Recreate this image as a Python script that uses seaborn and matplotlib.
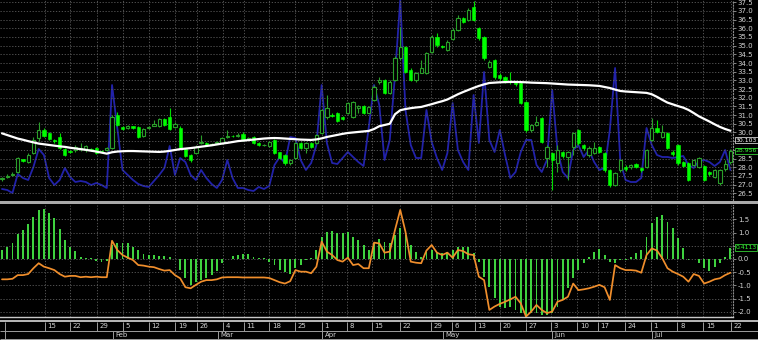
import numpy as np
import matplotlib
matplotlib.use("Agg")
import matplotlib.pyplot as plt
from matplotlib.patches import Rectangle
import seaborn as sns

# ---------------- data ----------------
opens = [27.30, 27.45, 27.55, 27.72, 28.45, 28.30, 28.82, 29.68, 30.14, 29.97,
         29.55, 29.74, 29.05, 28.95, 28.99, 29.05, 28.99, 29.05, 29.11, 28.95,
         29.00, 29.11, 31.01, 30.30, 30.25, 30.35, 30.32, 29.80, 30.25, 30.40,
         30.37, 30.78, 30.89, 30.30, 30.26, 29.05, 28.70, 28.82, 29.40, 29.40,
         29.28, 29.40, 29.40, 29.74, 29.80, 29.78, 29.91, 29.60, 29.74, 29.40,
         29.25, 29.22, 29.57, 28.88, 28.70, 28.24, 28.53, 29.40, 29.11, 29.40,
         29.40, 29.97, 30.89, 31.01, 31.12, 30.89, 31.12, 30.89, 31.40, 31.53,
         31.15, 31.87, 32.90, 33.02, 32.28, 33.02, 34.29, 34.93, 33.60, 33.02,
         33.45, 33.43, 34.64, 35.50, 34.98, 34.75, 35.39, 35.90, 36.59, 36.48,
         37.23, 36.02, 35.50, 33.77, 34.18, 33.31, 33.20, 32.95, 32.90, 32.85,
         31.76, 30.14, 30.43, 30.83, 28.53, 28.82, 28.24, 28.88, 28.60, 29.16,
         30.14, 29.28, 28.70, 28.80, 29.16, 28.82, 27.84, 26.97, 27.84, 28.00,
         28.00, 28.20, 27.95, 28.01, 29.57, 30.26, 29.74, 29.97, 28.88, 29.28,
         28.30, 28.24, 28.13, 28.01, 28.07, 27.70, 27.45, 27.09, 27.90, 28.30]
closes = [27.35, 27.50, 27.62, 28.53, 28.38, 28.70, 29.57, 30.14, 29.80, 29.63,
          29.50, 29.11, 28.70, 28.88, 29.16, 29.10, 29.22, 29.00, 28.82, 28.90,
          29.08, 30.89, 30.43, 30.22, 30.35, 30.28, 29.74, 30.20, 30.30, 30.50,
          30.78, 30.43, 30.20, 30.50, 29.11, 28.65, 28.42, 29.16, 29.45, 29.30,
          29.35, 29.45, 29.68, 29.80, 29.78, 29.86, 29.57, 29.68, 29.40, 29.25,
          29.30, 29.45, 28.82, 28.53, 28.24, 28.42, 29.40, 29.11, 29.40, 29.16,
          29.86, 31.30, 31.41, 30.95, 30.66, 30.75, 31.70, 31.76, 31.50, 31.12,
          31.45, 32.62, 33.00, 32.28, 32.91, 34.29, 34.93, 33.48, 33.02, 33.43,
          33.70, 34.58, 35.50, 35.04, 34.93, 35.20, 35.90, 36.59, 36.37, 37.06,
          36.48, 35.44, 34.29, 34.06, 33.20, 33.14, 32.91, 32.90, 32.80, 31.70,
          30.14, 30.43, 30.60, 29.45, 29.16, 28.42, 28.99, 28.65, 28.85, 29.95,
          29.40, 29.11, 29.11, 29.11, 28.88, 27.84, 26.97, 27.67, 28.42, 27.90,
          28.10, 28.00, 27.85, 28.99, 30.26, 30.03, 30.03, 29.11, 28.75, 28.24,
          28.07, 27.26, 28.42, 28.53, 27.26, 27.60, 27.84, 27.84, 28.20, 28.96]
highs = [27.45, 27.60, 27.70, 28.60, 28.50, 28.80, 29.75, 30.62, 30.25, 30.05,
         29.65, 29.95, 29.10, 29.00, 29.25, 29.40, 29.30, 29.10, 29.15, 29.00,
         29.15, 31.00, 31.20, 30.38, 30.45, 30.40, 30.35, 30.28, 30.38, 30.72,
         30.85, 30.85, 31.41, 30.60, 30.40, 29.10, 28.75, 29.25, 29.86, 29.45,
         29.40, 29.50, 29.72, 30.14, 29.85, 29.95, 30.00, 29.75, 29.80, 29.45,
         29.35, 29.50, 29.60, 28.90, 28.75, 28.50, 29.45, 29.45, 29.45, 29.45,
         29.90, 31.35, 32.16, 31.10, 31.20, 30.95, 31.75, 31.80, 31.60, 31.60,
         31.55, 32.75, 33.20, 33.10, 33.00, 34.40, 36.08, 35.00, 33.70, 33.50,
         34.18, 34.65, 35.60, 35.73, 35.05, 35.30, 36.00, 36.77, 36.65, 37.15,
         37.60, 36.10, 35.55, 34.15, 34.25, 33.40, 33.25, 33.48, 32.95, 32.90,
         31.80, 30.50, 30.95, 30.90, 29.25, 28.90, 29.28, 28.95, 28.95, 30.00,
         30.20, 29.35, 29.20, 29.45, 29.20, 28.90, 27.90, 27.75, 28.50, 28.10,
         28.20, 28.25, 28.00, 29.05, 30.83, 30.72, 30.43, 30.05, 29.00, 29.35,
         28.35, 28.30, 28.50, 28.60, 28.15, 27.80, 27.90, 27.90, 28.40, 29.05]
lows = [27.20, 27.40, 27.50, 27.65, 28.30, 28.25, 28.75, 29.50, 29.75, 29.55,
        29.40, 29.05, 28.65, 28.80, 28.90, 28.95, 28.90, 28.95, 28.75, 28.85,
        28.95, 29.05, 30.35, 30.15, 30.20, 30.20, 29.70, 29.75, 30.20, 30.35,
        30.30, 30.38, 30.15, 30.25, 29.05, 28.60, 28.30, 28.75, 29.35, 29.25,
        29.25, 29.35, 29.35, 29.70, 29.72, 29.72, 29.50, 29.55, 29.35, 29.20,
        29.20, 29.18, 28.75, 28.45, 28.15, 28.10, 28.50, 29.05, 28.82, 29.10,
        29.35, 29.90, 30.80, 30.90, 30.60, 30.70, 31.05, 30.85, 31.10, 31.05,
        31.10, 31.80, 32.80, 32.20, 32.20, 32.95, 34.20, 33.40, 32.95, 32.90,
        33.40, 33.35, 34.55, 34.95, 34.85, 34.70, 35.30, 35.85, 36.30, 36.40,
        36.40, 35.35, 34.20, 33.70, 33.10, 33.05, 32.85, 32.80, 32.70, 31.65,
        30.05, 30.05, 30.35, 29.40, 28.00, 26.69, 27.72, 28.55, 27.26, 28.70,
        29.30, 29.00, 28.60, 28.75, 28.80, 27.75, 26.85, 26.90, 27.75, 27.80,
        27.90, 27.95, 27.75, 27.95, 29.50, 29.95, 29.70, 29.05, 28.65, 28.15,
        28.00, 27.20, 28.05, 27.95, 27.20, 27.50, 27.35, 27.00, 27.80, 28.20]
moving_avg = [29.95, 29.85, 29.75, 29.65, 29.58, 29.50, 29.43, 29.36, 29.32, 29.28,
              29.24, 29.20, 29.17, 29.12, 29.08, 29.04, 29.00, 28.95, 28.90, 28.84,
              28.78, 28.86, 28.90, 28.92, 28.93, 28.93, 28.92, 28.91, 28.90, 28.89,
              28.88, 28.90, 28.94, 28.99, 29.04, 29.07, 29.10, 29.14, 29.18, 29.22,
              29.26, 29.31, 29.36, 29.40, 29.45, 29.50, 29.53, 29.56, 29.59, 29.62,
              29.65, 29.67, 29.68, 29.67, 29.65, 29.63, 29.61, 29.59, 29.58, 29.57,
              29.60, 29.66, 29.74, 29.80, 29.86, 29.92, 29.97, 30.00, 30.03, 30.06,
              30.09, 30.20, 30.36, 30.43, 30.50, 31.05, 31.28, 31.35, 31.40, 31.44,
              31.47, 31.55, 31.63, 31.72, 31.80, 31.90, 32.05, 32.20, 32.33, 32.45,
              32.57, 32.68, 32.77, 32.85, 32.87, 32.89, 32.90, 32.91, 32.91, 32.90,
              32.89, 32.87, 32.86, 32.85, 32.84, 32.82, 32.80, 32.78, 32.76, 32.75,
              32.74, 32.73, 32.72, 32.70, 32.68, 32.62, 32.56, 32.47, 32.39, 32.36,
              32.34, 32.32, 32.30, 32.28, 32.20, 32.05, 31.88, 31.72, 31.62, 31.52,
              31.43, 31.30, 31.12, 30.93, 30.78, 30.63, 30.47, 30.32, 30.20, 30.10]
blue_ind = [5.5, 5.0, 3.5, 13.0, 11.0, 10.0, 16.5, 25.5, 22.5, 11.0,
            7.5, 10.0, 16.0, 11.5, 9.0, 9.5, 9.0, 7.5, 8.5, 7.5,
            6.0, 57.5, 36.0, 15.0, 12.5, 10.0, 8.0, 7.0, 6.5, 9.5,
            12.5, 16.0, 27.0, 12.5, 21.0, 19.0, 12.5, 10.0, 15.0, 11.0,
            8.0, 6.0, 10.0, 20.0, 11.0, 6.0, 6.0, 5.0, 4.5, 6.5,
            5.5, 7.0, 17.5, 21.5, 18.5, 31.5, 31.0, 20.0, 15.0, 18.5,
            27.5, 57.5, 28.5, 18.5, 18.0, 21.0, 24.0, 21.5, 19.0, 17.0,
            36.5, 57.5, 47.5, 20.0, 30.0, 62.5, 100.0, 45.0, 27.5, 21.0,
            21.0, 45.0, 29.0, 21.0, 15.0, 23.5, 48.5, 25.0, 19.0, 15.0,
            52.5, 28.5, 64.0, 30.0, 24.0, 35.0, 22.5, 11.0, 14.0, 24.0,
            30.0, 30.0, 17.5, 14.0, 20.0, 55.0, 25.0, 14.0, 11.0, 25.0,
            27.5, 21.5, 25.0, 19.0, 15.0, 16.0, 35.0, 66.0, 19.0, 10.0,
            9.0, 9.0, 11.0, 36.0, 27.5, 22.5, 21.5, 21.5, 21.0, 21.5,
            22.0, 17.5, 16.0, 19.5, 20.0, 19.0, 17.0, 19.0, 25.0, 15.0]
histogram = [0.35, 0.47, 0.62, 0.93, 1.10, 1.31, 1.60, 1.86, 1.88, 1.73,
             1.54, 1.13, 0.72, 0.47, 0.30, 0.06, 0.04, 0.02, -0.08, -0.10,
             -0.06, 0.53, 0.59, 0.62, 0.62, 0.47, 0.34, 0.19, 0.15, 0.15,
             0.11, 0.13, 0.06, 0.00, -0.42, -0.73, -0.98, -0.86, -0.80, -0.73,
             -0.60, -0.44, -0.16, 0.00, 0.11, 0.15, 0.19, 0.19,
             0.06, 0.03, 0.03, -0.10, -0.23, -0.42, -0.48, -0.57, -0.35, -0.23,
             -0.04, 0.03, 0.34, 0.85, 1.03, 1.06, 0.97, 0.97, 1.03, 0.82,
             0.72, 0.53, 0.34, 0.62, 0.75, 0.66, 0.59, 0.91, 1.16, 0.91,
             0.53, 0.28, 0.09, 0.28, 0.34, 0.28, 0.24, 0.28, 0.34, 0.44,
             0.47, 0.47, 0.21, -0.10, -0.67, -1.05,
             -1.49, -1.80, -1.87, -1.80, -1.93, -2.05, -2.18, -2.05, -2.05, -2.12,
             -2.12, -2.05, -1.80, -1.55, -1.11, -0.73, -0.42, -0.16, 0.06, 0.25,
             0.37, 0.15, -0.10, -0.14, -0.04, -0.02, 0.09, 0.22, 0.34, 0.85,
             1.35, 1.58, 1.67, 1.41, 1.16, 0.78, 0.43, -0.04, 0.00, -0.16,
             -0.35, -0.44, -0.29, -0.16, 0.06, 0.41]
signal = [-0.77, -0.77, -0.75, -0.61, -0.61, -0.57, -0.35, -0.16, -0.29, -0.35,
          -0.42, -0.57, -0.67, -0.64, -0.64, -0.69, -0.67, -0.69, -0.67, -0.69,
          -0.69, 0.69, 0.34, 0.15, 0.05, -0.04, -0.23, -0.25, -0.29, -0.31,
          -0.38, -0.44, -0.42, -0.61, -0.73, -1.07, -1.11, -0.98, -0.86, -0.80,
          -0.80, -0.77, -0.70, -0.69, -0.69, -0.69, -0.70, -0.70,
          -0.70, -0.70, -0.70, -0.72, -0.80, -0.88, -0.93, -0.84, -0.42, -0.48,
          -0.48, -0.54, -0.29, 0.66, 0.28, 0.15, -0.04, -0.10, 0.05, -0.23,
          -0.19, -0.35, -0.35, 0.62, 0.59, 0.24, 0.28, 1.10, 1.86, 1.03,
          -0.10, -0.14, -0.16, 0.32, 0.53, 0.24, 0.15, 0.24, 0.05, 0.34,
          0.30, 0.18, 0.15, -0.67, -0.80, -1.93,
          -1.80, -1.70, -1.62, -1.53, -1.43, -1.68, -2.18, -1.99, -1.74, -1.93,
          -2.05, -1.99, -1.62, -1.55, -1.43, -0.93, -1.18, -1.15, -1.11, -1.05,
          -0.98, -1.07, -1.55, -0.23, -0.35, -0.42, -0.42, -0.44, -0.52, 0.15,
          0.40, 0.32, 0.03, -0.35, -0.48, -0.57, -0.67, -0.86, -0.57, -0.64,
          -0.93, -0.86, -0.77, -0.73, -0.61, -0.52]

day_pos = [8.2, 13.0, 18.1, 23.1, 28.0, 33.1, 37.2, 42.1, 46.2, 51.0, 55.9, 61.0,
           65.8, 70.6, 75.9, 81.9, 85.9, 90.2, 95.1, 100.0, 104.8, 109.8, 113.7,
           118.8, 123.8, 128.9, 133.8, 139.1]
day_labels = ["15", "22", "29", "5", "12", "19", "26", "4", "11", "18", "25", "1",
              "8", "15", "22", "29", "6", "13", "20", "27", "3", "10", "17", "24",
              "1", "8", "15", "22"]
month_pos = [21.2, 41.2, 61.1, 84.2, 105.0, 124.0]
month_labels = ["Feb", "Mar", "Apr", "May", "Jun", "Jul"]
price_ticks = [26.5 + 0.5 * k for k in range(23)]
osc_ticks = [-2.0, -1.5, -1.0, -0.5, 0.0, 0.5, 1.0, 1.5]
last_ma_label = "30.103"
last_close_label = "28.956"
last_osc_label = "0.4113"
# tick labels covered by the value boxes on the right scale
price_hidden = [29.5, 29.0]
osc_hidden = [0.5]

# ---------------- style ----------------
sns.set_theme(style="dark", rc={"axes.facecolor": "black", "figure.facecolor": "black",
                                "savefig.facecolor": "black"})
plt.rcParams["font.family"] = ["DejaVu Sans"]
plt.rcParams["axes.unicode_minus"] = False

W, H = 758, 340
fig = plt.figure(figsize=(W / 100, H / 100), dpi=100, facecolor="black")


def fy(py):
    return 1 - py / H


XMIN, XMAX = -0.38, 139.5
GRID = dict(color="#5e5e5e", linestyle=(0, (1.5, 2.0)), linewidth=0.6)
TXT = "#d2d2d2"

ax_top = fig.add_axes([0, fy(200), 733 / W, 200 / H])
ax_blue = ax_top.twinx()
ax_bot = fig.add_axes([0, fy(317), 733 / W, 112 / H])
ax_date = fig.add_axes([0, 0, 1, 20 / H])

idx = np.arange(len(closes))
o = np.array(opens); c = np.array(closes); h = np.array(highs); l = np.array(lows)
up = c >= o
dn = ~up

# blue indicator behind price
ax_top.set_zorder(ax_blue.get_zorder() + 1)
ax_top.patch.set_visible(False)
ax_blue.set_facecolor("black")
sns.lineplot(x=idx, y=blue_ind, color="#2222aa", linewidth=1.3, ax=ax_blue)
ax_blue.set_ylim(0, 100)
ax_blue.set_yticks([])
ax_blue.set_ylabel("")
for s in ax_blue.spines.values():
    s.set_visible(False)

# candles
UPC = "#2a9f2a"
DNC = "#00ff00"
ax_top.vlines(idx[up], l[up], h[up], color=UPC, linewidth=0.8, zorder=3)
ax_top.vlines(idx[dn], l[dn], h[dn], color="#00dd00", linewidth=0.8, zorder=3)
ax_top.bar(idx[up], c[up] - o[up], bottom=o[up], width=0.62, facecolor="black",
           edgecolor=UPC, linewidth=0.8, zorder=4)
ax_top.bar(idx[dn], o[dn] - c[dn], bottom=c[dn], width=0.62, facecolor=DNC,
           edgecolor=DNC, linewidth=0.4, zorder=4)
sns.lineplot(x=idx, y=moving_avg, color="white", linewidth=1.6, ax=ax_top, zorder=5)


def fmt_ticks(ticks, hidden):
    return ["" if any(abs(v - hv) < 1e-9 for hv in hidden) else f"{v:.1f}" for v in ticks]


ax_top.set_xlim(XMIN, XMAX)
ax_top.set_ylim(26.11, 37.63)
ax_top.set_yticks(price_ticks)
ax_top.set_yticklabels(fmt_ticks(price_ticks, price_hidden))
ax_top.set_xticks(day_pos)
ax_top.grid(True, **GRID)
ax_top.yaxis.tick_right()
ax_top.tick_params(axis="y", labelsize=5, labelcolor=TXT, color="#9a9a9a",
                   length=2, width=0.6, pad=1.5)
ax_top.tick_params(axis="x", length=0, labelbottom=False)
ax_top.set_xlabel(""); ax_top.set_ylabel("")
for name, s in ax_top.spines.items():
    s.set_visible(name == "right")
ax_top.spines["right"].set(color="#8a8a8a", linestyle=":", linewidth=0.8)

# oscillator panel
sns.barplot(x=idx, y=histogram, native_scale=True, width=0.36, color="#3fd23f",
            saturation=1, errorbar=None, linewidth=0, ax=ax_bot)
sns.lineplot(x=idx, y=signal, color="#f08e2c", linewidth=1.25, ax=ax_bot, zorder=5)
ax_bot.set_xlim(XMIN, XMAX)
ax_bot.set_ylim(-2.197, 2.045)
ax_bot.set_yticks(osc_ticks)
ax_bot.set_yticklabels(fmt_ticks(osc_ticks, osc_hidden))
ax_bot.set_xticks(day_pos)
ax_bot.grid(True, **GRID)
ax_bot.yaxis.tick_right()
ax_bot.tick_params(axis="y", labelsize=5, labelcolor=TXT, color="#9a9a9a",
                   length=2, width=0.6, pad=1.5)
ax_bot.tick_params(axis="x", direction="in", length=2.5, width=0.7, color="#c8c8c8",
                   labelbottom=False)
ax_bot.set_xlabel(""); ax_bot.set_ylabel("")
for name, s in ax_bot.spines.items():
    s.set_visible(name in ("right", "bottom"))
ax_bot.spines["right"].set(color="#8a8a8a", linestyle=":", linewidth=0.8)
ax_bot.spines["bottom"].set(color="#c8c8c8", linewidth=1.0)

# separator band between panels
fig.patches.append(Rectangle((0, fy(203.5)), 1, 3 / H, transform=fig.transFigure,
                             facecolor="#a9a9a9", edgecolor="none", zorder=10))

# value boxes on the right scale
BOX = dict(fontsize=4.4, va="center", ha="left", zorder=20)
fig.text(735.5 / W, fy(140), last_ma_label, color="white",
         bbox=dict(boxstyle="square,pad=0.12", fc="black", ec="#d0d0d0", lw=0.6), **BOX)
fig.text(735.5 / W, fy(151), last_close_label, color="#33ff33",
         bbox=dict(boxstyle="square,pad=0.12", fc="black", ec="#33cc33", lw=0.6), **BOX)
fig.text(735.5 / W, fy(247.5), last_osc_label, color="#33ff33",
         bbox=dict(boxstyle="square,pad=0.12", fc="black", ec="#33cc33", lw=0.6), **BOX)

# date strip
ax_date.set_facecolor("black")
ax_date.set_xlim(XMIN, XMIN + W / 5.24)
ax_date.set_ylim(0, 20)
ax_date.axis("off")
SEP = "#9c9c9c"
ax_date.add_patch(Rectangle((XMIN, 18.3), W / 5.24, 1.7, facecolor="#b4b4b4",
                            edgecolor="none"))
ax_date.hlines([9.0, 0.8], XMIN, XMIN + W / 5.24, color=SEP, linewidth=0.7)
ax_date.vlines([0.57], 0.8, 18.3, color=SEP, linewidth=0.7)
ax_date.vlines(day_pos, 9.0, 18.3, color=SEP, linewidth=0.7)
for p, t in zip(day_pos, day_labels):
    ax_date.text(p + 0.5, 13.6, t, fontsize=5, color=TXT, ha="left", va="center")
ax_date.vlines(month_pos, 0.8, 9.0, color=SEP, linewidth=0.7)
for p, t in zip(month_pos, month_labels):
    ax_date.text(p + 0.5, 4.9, t, fontsize=5, color=TXT, ha="left", va="center")

fig.savefig("out.png", dpi=100, facecolor="black")
